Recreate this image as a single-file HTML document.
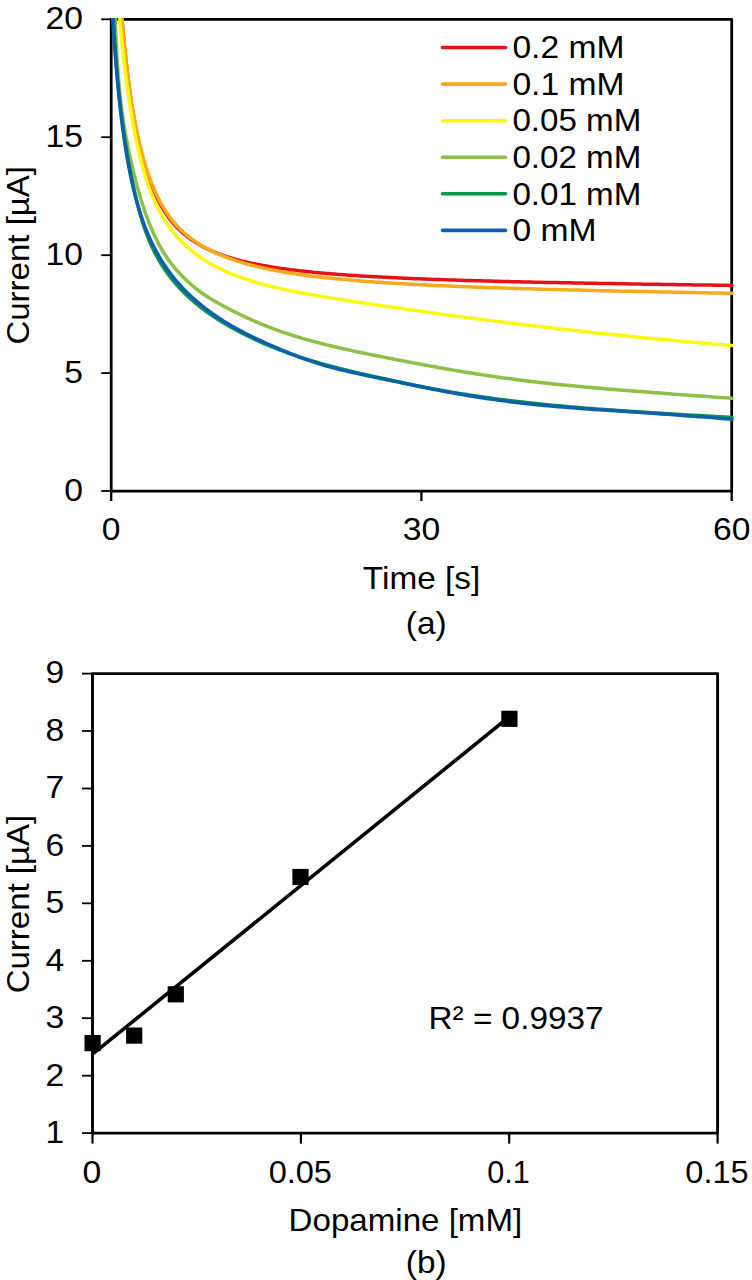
<!DOCTYPE html>
<html><head><meta charset="utf-8"><title>Chronoamperometry of dopamine</title>
<style>html,body{margin:0;padding:0;background:#fff;}svg{display:block;}text{font-family:"Liberation Sans", sans-serif;font-size:32px;fill:#000;}</style></head><body>
<svg width="752" height="1280" viewBox="0 0 752 1280" role="img" aria-label="Chronoamperometric response and dopamine calibration plot">
<rect width="752" height="1280" fill="#fff"/>
<g id="chart-a">
<g stroke="#000" fill="none">
<rect x="111.2" y="19.3" width="620.5" height="471.7" stroke-width="2.75" stroke-linejoin="round"/>
<line x1="101.2" y1="491.0" x2="111.2" y2="491.0" stroke-width="1.8"/>
<line x1="101.2" y1="373.1" x2="111.2" y2="373.1" stroke-width="1.8"/>
<line x1="101.2" y1="255.2" x2="111.2" y2="255.2" stroke-width="1.8"/>
<line x1="101.2" y1="137.2" x2="111.2" y2="137.2" stroke-width="1.8"/>
<line x1="101.2" y1="19.3" x2="111.2" y2="19.3" stroke-width="1.8"/>
<line x1="111.2" y1="491.0" x2="111.2" y2="501.0" stroke-width="2.3"/>
<line x1="421.4" y1="491.0" x2="421.4" y2="501.0" stroke-width="2.3"/>
<line x1="731.7" y1="491.0" x2="731.7" y2="501.0" stroke-width="2.3"/>
</g>
<clipPath id="ca"><rect x="109.8" y="17.900000000000002" width="626.5" height="471.7"/></clipPath>
<g clip-path="url(#ca)" fill="none" stroke-linecap="round" stroke-linejoin="round">
<path d="M120.56,0.47 L120.70,2.33 L120.84,4.17 L120.98,6.02 L121.12,7.86 L121.26,9.70 L121.40,11.53 L121.55,13.36 L121.70,15.19 L121.84,17.01 L121.99,18.83 L122.14,20.65 L122.30,22.46 L122.45,24.26 L122.60,26.06 L122.76,27.86 L122.92,29.65 L123.08,31.44 L123.24,33.22 L123.40,35.00 L123.56,36.77 L123.73,38.54 L123.89,40.30 L124.06,42.06 L124.23,43.81 L124.40,45.56 L124.57,47.30 L124.74,49.03 L124.92,50.77 L125.10,52.49 L125.27,54.21 L125.45,55.92 L125.64,57.63 L125.82,59.33 L126.00,61.03 L126.19,62.72 L126.38,64.41 L126.57,66.08 L126.76,67.76 L126.95,69.42 L127.14,71.08 L127.34,72.74 L127.54,74.38 L127.74,76.03 L127.94,77.66 L128.14,79.29 L128.35,80.91 L128.55,82.53 L128.76,84.14 L128.97,85.74 L129.19,87.33 L129.40,88.92 L129.62,90.50 L129.84,92.08 L130.06,93.65 L130.28,95.21 L130.50,96.77 L130.73,98.31 L130.96,99.86 L131.19,101.39 L131.42,102.92 L131.65,104.44 L131.89,105.95 L132.13,107.46 L132.37,108.96 L132.61,110.45 L132.85,111.93 L133.10,113.41 L133.35,114.88 L133.60,116.34 L133.85,117.80 L134.11,119.25 L134.37,120.69 L134.63,122.12 L134.89,123.55 L135.16,124.97 L135.42,126.38 L135.69,127.78 L135.96,129.18 L136.24,130.57 L136.52,131.95 L136.79,133.32 L137.08,134.69 L137.36,136.05 L137.65,137.40 L137.94,138.75 L138.23,140.08 L138.52,141.41 L138.82,142.73 L139.12,144.05 L139.42,145.35 L139.73,146.65 L140.04,147.94 L140.35,149.22 L140.66,150.50 L140.97,151.77 L141.29,153.03 L141.62,154.28 L141.94,155.53 L142.27,156.76 L142.60,157.99 L142.93,159.21 L143.27,160.43 L143.61,161.63 L143.95,162.83 L144.29,164.02 L144.64,165.21 L144.99,166.38 L145.35,167.55 L145.70,168.71 L146.06,169.86 L146.43,171.01 L146.80,172.14 L147.17,173.27 L147.54,174.39 L147.92,175.51 L148.30,176.61 L148.68,177.71 L149.07,178.80 L149.46,179.88 L149.85,180.96 L150.25,182.02 L150.65,183.08 L151.05,184.14 L151.46,185.18 L151.87,186.22 L152.29,187.24 L152.71,188.26 L153.13,189.28 L153.56,190.28 L153.99,191.28 L154.42,192.27 L154.86,193.25 L155.30,194.23 L155.75,195.19 L156.20,196.15 L156.65,197.10 L157.11,198.05 L157.57,198.98 L158.04,199.91 L158.51,200.83 L158.98,201.74 L159.46,202.65 L159.94,203.55 L160.43,204.44 L160.92,205.32 L161.42,206.19 L161.91,207.06 L162.42,207.92 L162.93,208.77 L163.44,209.62 L163.96,210.45 L164.48,211.28 L165.01,212.10 L165.54,212.91 L166.08,213.72 L166.62,214.52 L167.16,215.31 L167.71,216.09 L168.27,216.87 L168.83,217.64 L169.40,218.40 L169.97,219.15 L170.54,219.89 L171.12,220.63 L171.71,221.36 L172.30,222.08 L172.90,222.80 L173.50,223.51 L174.11,224.21 L174.72,224.90 L175.34,225.59 L175.96,226.26 L176.59,226.93 L177.22,227.60 L177.86,228.26 L178.51,228.91 L179.16,229.55 L179.82,230.19 L180.48,230.82 L181.15,231.44 L181.82,232.06 L182.50,232.67 L183.19,233.27 L183.88,233.87 L184.58,234.46 L185.29,235.05 L186.00,235.63 L186.72,236.20 L187.44,236.77 L188.17,237.33 L188.91,237.88 L189.65,238.43 L190.40,238.98 L191.16,239.51 L191.92,240.05 L192.69,240.57 L193.47,241.09 L194.25,241.61 L195.04,242.12 L195.84,242.62 L196.65,243.12 L197.46,243.62 L198.28,244.11 L199.10,244.59 L199.94,245.07 L200.78,245.54 L201.63,246.01 L202.48,246.47 L203.35,246.93 L204.22,247.38 L205.10,247.83 L205.98,248.28 L206.88,248.72 L207.78,249.15 L208.69,249.58 L209.61,250.00 L210.54,250.42 L211.47,250.84 L212.42,251.25 L213.37,251.66 L214.33,252.06 L215.30,252.46 L216.27,252.86 L217.26,253.24 L218.25,253.63 L219.26,254.01 L220.27,254.39 L221.29,254.76 L222.32,255.13 L223.36,255.50 L224.41,255.86 L225.47,256.22 L226.54,256.57 L227.61,256.92 L228.70,257.27 L229.80,257.61 L230.90,257.95 L232.02,258.28 L233.14,258.61 L234.28,258.94 L235.42,259.26 L236.58,259.58 L237.74,259.90 L238.92,260.22 L240.11,260.53 L241.30,260.83 L242.51,261.14 L243.73,261.44 L244.96,261.73 L246.20,262.03 L247.45,262.32 L248.71,262.60 L249.99,262.89 L251.27,263.17 L252.57,263.45 L253.87,263.72 L255.19,263.99 L256.52,264.26 L257.87,264.53 L259.22,264.79 L260.59,265.05 L261.97,265.31 L263.36,265.56 L264.76,265.81 L266.18,266.06 L267.60,266.31 L269.04,266.55 L270.50,266.79 L271.96,267.03 L273.44,267.27 L274.94,267.50 L276.44,267.73 L277.96,267.96 L279.49,268.19 L281.04,268.41 L282.60,268.63 L284.17,268.85 L285.76,269.06 L287.36,269.28 L288.98,269.49 L290.61,269.70 L292.25,269.91 L293.91,270.11 L295.58,270.31 L297.27,270.51 L298.98,270.71 L300.70,270.91 L302.43,271.10 L304.18,271.29 L305.94,271.48 L307.72,271.67 L309.52,271.86 L311.33,272.04 L313.16,272.22 L315.00,272.40 L316.87,272.58 L318.74,272.75 L320.64,272.93 L322.55,273.10 L324.47,273.27 L326.42,273.44 L328.38,273.60 L330.36,273.77 L332.36,273.93 L334.37,274.09 L336.40,274.25 L338.45,274.41 L340.52,274.56 L342.61,274.72 L344.71,274.87 L346.84,275.02 L348.98,275.17 L351.14,275.31 L353.32,275.46 L355.52,275.60 L357.74,275.75 L359.98,275.89 L362.24,276.03 L364.52,276.17 L366.82,276.30 L369.14,276.44 L371.48,276.57 L373.84,276.70 L376.22,276.83 L378.63,276.96 L381.05,277.09 L383.50,277.22 L385.96,277.34 L388.45,277.47 L390.96,277.59 L393.50,277.71 L396.05,277.83 L398.63,277.95 L401.24,278.07 L403.86,278.18 L406.51,278.30 L409.18,278.41 L411.87,278.53 L414.59,278.64 L417.34,278.75 L420.10,278.86 L422.90,278.97 L425.71,279.07 L428.55,279.18 L431.42,279.29 L434.31,279.39 L437.23,279.49 L440.17,279.60 L443.14,279.70 L446.14,279.80 L449.16,279.90 L452.21,280.00 L455.29,280.09 L458.39,280.19 L461.52,280.29 L464.68,280.38 L467.87,280.48 L471.08,280.57 L474.33,280.66 L477.60,280.75 L480.90,280.85 L484.23,280.94 L487.59,281.03 L490.98,281.12 L494.40,281.20 L497.85,281.29 L501.33,281.38 L504.84,281.47 L508.39,281.55 L511.96,281.64 L515.57,281.72 L519.20,281.80 L522.87,281.89 L526.58,281.97 L530.31,282.05 L534.08,282.14 L537.88,282.22 L541.72,282.30 L545.59,282.38 L549.49,282.46 L553.43,282.54 L557.40,282.62 L561.41,282.70 L565.45,282.77 L569.53,282.85 L573.65,282.93 L577.80,283.01 L581.99,283.08 L586.22,283.16 L590.48,283.24 L594.78,283.31 L599.12,283.39 L603.50,283.46 L607.91,283.54 L612.37,283.62 L616.87,283.69 L621.40,283.77 L625.98,283.84 L630.59,283.91 L635.25,283.99 L639.95,284.06 L644.69,284.14 L649.47,284.21 L654.29,284.29 L659.16,284.36 L664.07,284.43 L669.02,284.51 L674.02,284.58 L679.06,284.66 L684.15,284.73 L689.28,284.81 L694.46,284.88 L699.68,284.95 L704.95,285.03 L710.26,285.10 L715.63,285.18 L721.04,285.25 L726.49,285.33 L732.00,285.40" stroke="#e61218" stroke-width="3.5"/>
<path d="M120.76,3.43 L120.90,5.22 L121.04,7.01 L121.18,8.79 L121.32,10.58 L121.47,12.35 L121.61,14.13 L121.76,15.90 L121.91,17.67 L122.06,19.43 L122.21,21.19 L122.36,22.95 L122.51,24.70 L122.67,26.45 L122.82,28.19 L122.98,29.94 L123.14,31.67 L123.30,33.40 L123.46,35.13 L123.62,36.85 L123.79,38.57 L123.95,40.29 L124.12,42.00 L124.29,43.70 L124.46,45.40 L124.63,47.09 L124.81,48.78 L124.98,50.47 L125.16,52.15 L125.34,53.82 L125.52,55.49 L125.70,57.16 L125.88,58.82 L126.06,60.47 L126.25,62.12 L126.44,63.76 L126.63,65.40 L126.82,67.03 L127.01,68.66 L127.21,70.28 L127.40,71.89 L127.60,73.50 L127.80,75.11 L128.00,76.70 L128.20,78.30 L128.41,79.88 L128.61,81.46 L128.82,83.04 L129.03,84.60 L129.25,86.16 L129.46,87.72 L129.68,89.27 L129.89,90.81 L130.11,92.35 L130.34,93.88 L130.56,95.40 L130.79,96.92 L131.01,98.43 L131.24,99.94 L131.47,101.44 L131.71,102.93 L131.94,104.41 L132.18,105.89 L132.42,107.36 L132.66,108.83 L132.91,110.29 L133.16,111.74 L133.40,113.19 L133.65,114.62 L133.91,116.06 L134.16,117.48 L134.42,118.90 L134.68,120.31 L134.94,121.72 L135.21,123.11 L135.47,124.51 L135.74,125.89 L136.01,127.27 L136.29,128.64 L136.56,130.00 L136.84,131.36 L137.12,132.71 L137.41,134.05 L137.69,135.38 L137.98,136.71 L138.27,138.03 L138.57,139.35 L138.86,140.65 L139.16,141.95 L139.46,143.25 L139.77,144.53 L140.08,145.81 L140.39,147.08 L140.70,148.35 L141.01,149.60 L141.33,150.85 L141.65,152.10 L141.98,153.33 L142.30,154.56 L142.63,155.78 L142.96,156.99 L143.30,158.20 L143.64,159.40 L143.98,160.59 L144.32,161.78 L144.67,162.96 L145.02,164.13 L145.37,165.29 L145.73,166.45 L146.09,167.59 L146.45,168.74 L146.82,169.87 L147.19,171.00 L147.56,172.12 L147.94,173.23 L148.32,174.33 L148.70,175.43 L149.08,176.52 L149.47,177.61 L149.87,178.68 L150.26,179.75 L150.66,180.81 L151.07,181.87 L151.47,182.91 L151.88,183.95 L152.30,184.98 L152.71,186.01 L153.14,187.03 L153.56,188.04 L153.99,189.04 L154.42,190.04 L154.86,191.03 L155.30,192.01 L155.74,192.98 L156.19,193.95 L156.64,194.91 L157.10,195.86 L157.56,196.80 L158.02,197.74 L158.49,198.67 L158.96,199.60 L159.44,200.51 L159.92,201.42 L160.41,202.32 L160.89,203.22 L161.39,204.11 L161.89,204.99 L162.39,205.86 L162.90,206.72 L163.41,207.58 L163.92,208.43 L164.44,209.28 L164.97,210.11 L165.50,210.94 L166.03,211.77 L166.57,212.58 L167.11,213.39 L167.66,214.19 L168.22,214.99 L168.77,215.77 L169.34,216.55 L169.91,217.32 L170.48,218.09 L171.06,218.85 L171.64,219.60 L172.23,220.34 L172.82,221.08 L173.42,221.81 L174.02,222.53 L174.63,223.25 L175.25,223.96 L175.87,224.66 L176.49,225.35 L177.13,226.04 L177.76,226.72 L178.41,227.40 L179.05,228.07 L179.71,228.73 L180.37,229.38 L181.03,230.03 L181.70,230.68 L182.38,231.32 L183.06,231.95 L183.75,232.57 L184.45,233.19 L185.15,233.81 L185.86,234.41 L186.57,235.02 L187.29,235.61 L188.02,236.20 L188.75,236.79 L189.49,237.37 L190.24,237.95 L190.99,238.52 L191.75,239.08 L192.52,239.64 L193.29,240.19 L194.07,240.74 L194.85,241.29 L195.65,241.83 L196.45,242.36 L197.26,242.89 L198.07,243.41 L198.89,243.93 L199.72,244.45 L200.56,244.96 L201.40,245.47 L202.25,245.97 L203.11,246.46 L203.98,246.96 L204.85,247.45 L205.73,247.93 L206.62,248.41 L207.52,248.88 L208.43,249.36 L209.34,249.82 L210.26,250.29 L211.19,250.75 L212.13,251.20 L213.07,251.65 L214.03,252.10 L214.99,252.55 L215.96,252.99 L216.94,253.42 L217.93,253.86 L218.93,254.29 L219.93,254.71 L220.95,255.14 L221.97,255.55 L223.00,255.97 L224.05,256.38 L225.10,256.79 L226.16,257.20 L227.23,257.60 L228.31,258.00 L229.39,258.39 L230.49,258.79 L231.60,259.18 L232.72,259.56 L233.85,259.95 L234.98,260.33 L236.13,260.70 L237.29,261.08 L238.46,261.45 L239.64,261.81 L240.83,262.18 L242.02,262.54 L243.23,262.90 L244.45,263.25 L245.69,263.60 L246.93,263.95 L248.18,264.30 L249.45,264.64 L250.72,264.98 L252.01,265.32 L253.31,265.65 L254.62,265.98 L255.94,266.31 L257.27,266.63 L258.61,266.95 L259.97,267.27 L261.34,267.59 L262.72,267.90 L264.11,268.21 L265.52,268.52 L266.93,268.82 L268.36,269.12 L269.81,269.42 L271.26,269.71 L272.73,270.00 L274.21,270.29 L275.70,270.58 L277.21,270.86 L278.73,271.14 L280.27,271.42 L281.81,271.69 L283.37,271.96 L284.95,272.23 L286.54,272.50 L288.14,272.76 L289.76,273.02 L291.39,273.28 L293.03,273.53 L294.70,273.79 L296.37,274.04 L298.06,274.28 L299.76,274.53 L301.48,274.77 L303.22,275.01 L304.97,275.25 L306.73,275.48 L308.52,275.71 L310.31,275.94 L312.13,276.17 L313.95,276.39 L315.80,276.61 L317.66,276.83 L319.54,277.05 L321.43,277.27 L323.34,277.48 L325.27,277.69 L327.22,277.90 L329.18,278.11 L331.16,278.31 L333.15,278.51 L335.17,278.71 L337.20,278.91 L339.25,279.11 L341.32,279.30 L343.41,279.49 L345.51,279.68 L347.64,279.87 L349.78,280.06 L351.94,280.24 L354.12,280.42 L356.32,280.60 L358.54,280.78 L360.78,280.96 L363.03,281.13 L365.31,281.31 L367.61,281.48 L369.93,281.65 L372.27,281.81 L374.63,281.98 L377.01,282.15 L379.41,282.31 L381.83,282.47 L384.28,282.63 L386.74,282.79 L389.23,282.95 L391.74,283.10 L394.27,283.25 L396.83,283.41 L399.40,283.56 L402.00,283.71 L404.63,283.85 L407.27,284.00 L409.94,284.15 L412.63,284.29 L415.35,284.43 L418.09,284.57 L420.85,284.71 L423.64,284.85 L426.46,284.99 L429.29,285.13 L432.16,285.26 L435.05,285.40 L437.96,285.53 L440.90,285.66 L443.87,285.79 L446.86,285.92 L449.88,286.05 L452.92,286.18 L455.99,286.30 L459.09,286.43 L462.22,286.55 L465.37,286.67 L468.55,286.80 L471.76,286.92 L475.00,287.04 L478.27,287.16 L481.57,287.28 L484.89,287.39 L488.24,287.51 L491.63,287.63 L495.04,287.74 L498.49,287.86 L501.96,287.97 L505.46,288.08 L509.00,288.20 L512.57,288.31 L516.17,288.42 L519.80,288.53 L523.46,288.64 L527.15,288.75 L530.88,288.86 L534.64,288.96 L538.43,289.07 L542.26,289.18 L546.12,289.28 L550.02,289.39 L553.95,289.50 L557.91,289.60 L561.91,289.70 L565.94,289.81 L570.01,289.91 L574.12,290.01 L578.26,290.12 L582.44,290.22 L586.66,290.32 L590.91,290.42 L595.20,290.52 L599.53,290.63 L603.89,290.73 L608.30,290.83 L612.74,290.93 L617.22,291.03 L621.75,291.13 L626.31,291.23 L630.91,291.33 L635.56,291.43 L640.24,291.53 L644.97,291.62 L649.73,291.72 L654.54,291.82 L659.40,291.92 L664.29,292.02 L669.23,292.12 L674.21,292.22 L679.24,292.32 L684.31,292.42 L689.42,292.52 L694.58,292.61 L699.79,292.71 L705.04,292.81 L710.34,292.91 L715.68,293.01 L721.07,293.11 L726.51,293.21 L732.00,293.31" stroke="#f4aa1c" stroke-width="3.5"/>
<path d="M118.36,6.27 L118.48,7.59 L118.61,8.91 L118.73,10.25 L118.86,11.59 L118.99,12.94 L119.12,14.30 L119.25,15.66 L119.38,17.04 L119.51,18.42 L119.64,19.81 L119.78,21.21 L119.92,22.61 L120.05,24.02 L120.19,25.43 L120.33,26.85 L120.47,28.28 L120.62,29.71 L120.76,31.15 L120.91,32.59 L121.05,34.04 L121.20,35.49 L121.35,36.95 L121.50,38.41 L121.65,39.88 L121.81,41.35 L121.96,42.82 L122.12,44.30 L122.28,45.78 L122.44,47.26 L122.60,48.75 L122.76,50.24 L122.92,51.73 L123.09,53.23 L123.26,54.72 L123.43,56.22 L123.60,57.72 L123.77,59.22 L123.94,60.73 L124.12,62.23 L124.29,63.74 L124.47,65.25 L124.65,66.75 L124.83,68.26 L125.01,69.77 L125.20,71.28 L125.39,72.79 L125.57,74.30 L125.76,75.81 L125.95,77.32 L126.15,78.83 L126.34,80.33 L126.54,81.84 L126.74,83.35 L126.94,84.85 L127.14,86.36 L127.35,87.86 L127.55,89.36 L127.76,90.86 L127.97,92.35 L128.18,93.85 L128.40,95.34 L128.61,96.83 L128.83,98.32 L129.05,99.81 L129.27,101.29 L129.50,102.77 L129.72,104.25 L129.95,105.72 L130.18,107.20 L130.41,108.67 L130.65,110.13 L130.89,111.59 L131.12,113.05 L131.37,114.51 L131.61,115.96 L131.85,117.40 L132.10,118.85 L132.35,120.28 L132.60,121.72 L132.86,123.15 L133.12,124.58 L133.38,126.00 L133.64,127.41 L133.90,128.83 L134.17,130.23 L134.44,131.64 L134.71,133.03 L134.98,134.43 L135.26,135.81 L135.54,137.19 L135.82,138.57 L136.11,139.94 L136.39,141.31 L136.68,142.67 L136.98,144.02 L137.27,145.37 L137.57,146.72 L137.87,148.05 L138.17,149.38 L138.48,150.71 L138.79,152.03 L139.10,153.34 L139.41,154.65 L139.73,155.95 L140.05,157.25 L140.37,158.53 L140.70,159.81 L141.03,161.09 L141.36,162.36 L141.70,163.62 L142.04,164.88 L142.38,166.12 L142.72,167.37 L143.07,168.60 L143.42,169.83 L143.78,171.05 L144.14,172.27 L144.50,173.47 L144.86,174.67 L145.23,175.87 L145.60,177.06 L145.98,178.24 L146.35,179.41 L146.74,180.57 L147.12,181.73 L147.51,182.88 L147.90,184.03 L148.30,185.17 L148.70,186.30 L149.10,187.42 L149.51,188.53 L149.92,189.64 L150.33,190.74 L150.75,191.84 L151.17,192.92 L151.60,194.00 L152.03,195.07 L152.46,196.14 L152.90,197.19 L153.34,198.24 L153.79,199.29 L154.24,200.32 L154.69,201.35 L155.15,202.37 L155.61,203.38 L156.08,204.38 L156.55,205.38 L157.03,206.37 L157.51,207.35 L157.99,208.33 L158.48,209.29 L158.98,210.25 L159.47,211.20 L159.98,212.15 L160.48,213.08 L161.00,214.01 L161.51,214.93 L162.03,215.85 L162.56,216.75 L163.09,217.65 L163.63,218.54 L164.17,219.42 L164.72,220.30 L165.27,221.17 L165.82,222.03 L166.38,222.88 L166.95,223.72 L167.52,224.56 L168.10,225.39 L168.68,226.21 L169.27,227.03 L169.86,227.84 L170.46,228.64 L171.06,229.44 L171.67,230.23 L172.29,231.01 L172.91,231.79 L173.54,232.56 L174.17,233.33 L174.81,234.09 L175.45,234.84 L176.10,235.59 L176.76,236.34 L177.42,237.08 L178.09,237.82 L178.76,238.55 L179.44,239.27 L180.13,240.00 L180.82,240.71 L181.52,241.43 L182.23,242.14 L182.94,242.84 L183.66,243.55 L184.39,244.25 L185.12,244.94 L185.86,245.63 L186.60,246.32 L187.36,247.01 L188.12,247.69 L188.88,248.37 L189.66,249.04 L190.44,249.71 L191.23,250.38 L192.02,251.04 L192.83,251.70 L193.64,252.35 L194.46,253.00 L195.28,253.64 L196.11,254.28 L196.95,254.91 L197.80,255.54 L198.66,256.17 L199.52,256.79 L200.40,257.40 L201.28,258.01 L202.16,258.62 L203.06,259.22 L203.97,259.81 L204.88,260.40 L205.80,260.98 L206.73,261.56 L207.67,262.13 L208.62,262.69 L209.57,263.25 L210.54,263.81 L211.51,264.36 L212.50,264.90 L213.49,265.44 L214.49,265.98 L215.50,266.51 L216.52,267.04 L217.55,267.56 L218.59,268.08 L219.63,268.59 L220.69,269.10 L221.76,269.60 L222.84,270.10 L223.92,270.60 L225.02,271.09 L226.13,271.58 L227.25,272.07 L228.37,272.55 L229.51,273.03 L230.66,273.50 L231.82,273.97 L232.99,274.44 L234.17,274.91 L235.36,275.37 L236.57,275.83 L237.78,276.28 L239.01,276.74 L240.24,277.18 L241.49,277.63 L242.75,278.08 L244.02,278.52 L245.30,278.96 L246.60,279.39 L247.91,279.83 L249.22,280.26 L250.55,280.69 L251.90,281.11 L253.25,281.53 L254.62,281.95 L256.00,282.37 L257.40,282.78 L258.80,283.19 L260.22,283.59 L261.65,283.99 L263.10,284.39 L264.56,284.78 L266.03,285.17 L267.52,285.56 L269.01,285.94 L270.53,286.32 L272.06,286.69 L273.60,287.07 L275.15,287.44 L276.72,287.80 L278.31,288.17 L279.91,288.53 L281.52,288.89 L283.15,289.24 L284.79,289.60 L286.45,289.95 L288.13,290.30 L289.82,290.65 L291.52,291.00 L293.24,291.34 L294.98,291.69 L296.73,292.03 L298.50,292.37 L300.29,292.71 L302.09,293.05 L303.91,293.38 L305.74,293.72 L307.60,294.06 L309.46,294.39 L311.35,294.72 L313.26,295.06 L315.18,295.39 L317.12,295.72 L319.07,296.06 L321.05,296.39 L323.04,296.72 L325.05,297.06 L327.09,297.39 L329.13,297.72 L331.20,298.06 L333.29,298.39 L335.40,298.73 L337.52,299.06 L339.67,299.40 L341.83,299.74 L344.02,300.08 L346.22,300.42 L348.45,300.76 L350.70,301.10 L352.96,301.44 L355.25,301.79 L357.56,302.13 L359.89,302.48 L362.24,302.83 L364.62,303.18 L367.01,303.53 L369.43,303.89 L371.87,304.25 L374.33,304.61 L376.82,304.97 L379.32,305.33 L381.86,305.70 L384.41,306.07 L386.99,306.44 L389.59,306.81 L392.22,307.19 L394.87,307.57 L397.54,307.95 L400.24,308.34 L402.97,308.72 L405.71,309.11 L408.49,309.51 L411.29,309.90 L414.12,310.30 L416.97,310.71 L419.85,311.11 L422.75,311.52 L425.68,311.93 L428.64,312.34 L431.63,312.76 L434.64,313.17 L437.68,313.59 L440.75,314.01 L443.85,314.44 L446.98,314.87 L450.13,315.29 L453.32,315.72 L456.53,316.16 L459.78,316.59 L463.05,317.03 L466.35,317.47 L469.69,317.91 L473.05,318.35 L476.45,318.79 L479.88,319.24 L483.34,319.69 L486.83,320.14 L490.35,320.59 L493.91,321.04 L497.49,321.49 L501.12,321.95 L504.77,322.40 L508.46,322.86 L512.18,323.32 L515.94,323.78 L519.73,324.24 L523.56,324.70 L527.42,325.17 L531.32,325.63 L535.25,326.10 L539.22,326.56 L543.23,327.03 L547.27,327.50 L551.35,327.97 L555.47,328.44 L559.63,328.91 L563.82,329.38 L568.06,329.85 L572.33,330.32 L576.64,330.80 L580.99,331.27 L585.38,331.75 L589.82,332.22 L594.29,332.70 L598.81,333.17 L603.36,333.65 L607.96,334.13 L612.60,334.60 L617.29,335.08 L622.01,335.56 L626.78,336.03 L631.60,336.51 L636.46,336.99 L641.36,337.47 L646.31,337.94 L651.30,338.42 L656.34,338.90 L661.43,339.38 L666.57,339.85 L671.75,340.33 L676.98,340.81 L682.25,341.28 L687.58,341.76 L692.96,342.24 L698.38,342.71 L703.86,343.19 L709.38,343.66 L714.96,344.14 L720.59,344.61 L726.27,345.09 L732.00,345.56" stroke="#fcf814" stroke-width="3.5"/>
<path d="M113.96,-20.32 L114.05,-16.85 L114.14,-13.45 L114.24,-10.11 L114.33,-6.84 L114.43,-3.64 L114.52,-0.50 L114.62,2.58 L114.72,5.60 L114.82,8.56 L114.92,11.46 L115.02,14.30 L115.12,17.10 L115.22,19.83 L115.33,22.52 L115.43,25.16 L115.54,27.74 L115.64,30.28 L115.75,32.77 L115.86,35.22 L115.97,37.62 L116.09,39.98 L116.20,42.29 L116.31,44.56 L116.43,46.80 L116.54,48.99 L116.66,51.14 L116.78,53.26 L116.90,55.34 L117.02,57.39 L117.15,59.40 L117.27,61.37 L117.39,63.32 L117.52,65.23 L117.65,67.11 L117.78,68.96 L117.91,70.78 L118.04,72.57 L118.17,74.34 L118.31,76.07 L118.44,77.78 L118.58,79.47 L118.72,81.13 L118.86,82.76 L119.00,84.38 L119.14,85.97 L119.28,87.53 L119.43,89.08 L119.58,90.61 L119.73,92.11 L119.88,93.60 L120.03,95.07 L120.18,96.52 L120.34,97.95 L120.49,99.36 L120.65,100.76 L120.81,102.15 L120.97,103.52 L121.13,104.87 L121.30,106.21 L121.46,107.54 L121.63,108.85 L121.80,110.15 L121.97,111.44 L122.15,112.72 L122.32,113.99 L122.50,115.25 L122.68,116.50 L122.86,117.74 L123.04,118.97 L123.22,120.19 L123.41,121.41 L123.59,122.62 L123.78,123.82 L123.98,125.02 L124.17,126.21 L124.36,127.39 L124.56,128.58 L124.76,129.75 L124.96,130.92 L125.17,132.09 L125.37,133.26 L125.58,134.42 L125.79,135.59 L126.00,136.75 L126.21,137.90 L126.43,139.06 L126.65,140.22 L126.87,141.38 L127.09,142.53 L127.32,143.69 L127.55,144.85 L127.78,146.01 L128.01,147.17 L128.24,148.34 L128.48,149.51 L128.72,150.68 L128.96,151.85 L129.20,153.02 L129.45,154.20 L129.70,155.38 L129.95,156.56 L130.21,157.74 L130.46,158.92 L130.72,160.11 L130.98,161.30 L131.25,162.48 L131.52,163.67 L131.79,164.86 L132.06,166.06 L132.34,167.25 L132.61,168.44 L132.90,169.64 L133.18,170.83 L133.47,172.03 L133.76,173.22 L134.05,174.42 L134.35,175.62 L134.65,176.81 L134.95,178.01 L135.25,179.21 L135.56,180.40 L135.87,181.60 L136.19,182.79 L136.50,183.99 L136.83,185.18 L137.15,186.38 L137.48,187.57 L137.81,188.77 L138.14,189.96 L138.48,191.15 L138.82,192.34 L139.17,193.53 L139.52,194.71 L139.87,195.90 L140.22,197.09 L140.58,198.27 L140.94,199.45 L141.31,200.63 L141.68,201.81 L142.05,202.99 L142.43,204.16 L142.81,205.33 L143.20,206.51 L143.59,207.67 L143.98,208.84 L144.38,210.01 L144.78,211.17 L145.18,212.33 L145.59,213.49 L146.01,214.64 L146.43,215.79 L146.85,216.94 L147.27,218.09 L147.71,219.23 L148.14,220.37 L148.58,221.51 L149.02,222.64 L149.47,223.77 L149.93,224.90 L150.38,226.02 L150.85,227.13 L151.31,228.24 L151.79,229.35 L152.26,230.45 L152.74,231.55 L153.23,232.64 L153.72,233.73 L154.22,234.81 L154.72,235.89 L155.23,236.96 L155.74,238.02 L156.26,239.08 L156.78,240.13 L157.31,241.18 L157.84,242.22 L158.38,243.26 L158.92,244.28 L159.47,245.30 L160.03,246.32 L160.59,247.33 L161.15,248.33 L161.72,249.32 L162.30,250.31 L162.89,251.29 L163.48,252.26 L164.07,253.23 L164.67,254.19 L165.28,255.14 L165.90,256.08 L166.52,257.01 L167.14,257.94 L167.78,258.86 L168.42,259.77 L169.06,260.68 L169.72,261.57 L170.38,262.46 L171.04,263.34 L171.71,264.21 L172.39,265.07 L173.08,265.93 L173.78,266.78 L174.48,267.62 L175.18,268.45 L175.90,269.28 L176.62,270.10 L177.35,270.92 L178.09,271.73 L178.83,272.54 L179.59,273.34 L180.35,274.14 L181.11,274.94 L181.89,275.73 L182.67,276.52 L183.46,277.31 L184.26,278.09 L185.07,278.88 L185.89,279.66 L186.71,280.44 L187.54,281.22 L188.39,282.00 L189.24,282.77 L190.09,283.54 L190.96,284.31 L191.84,285.07 L192.72,285.83 L193.62,286.59 L194.52,287.34 L195.43,288.09 L196.35,288.83 L197.28,289.56 L198.22,290.29 L199.17,291.02 L200.13,291.74 L201.10,292.45 L202.08,293.16 L203.07,293.85 L204.07,294.55 L205.08,295.23 L206.10,295.91 L207.13,296.58 L208.17,297.24 L209.22,297.90 L210.28,298.55 L211.36,299.20 L212.44,299.85 L213.53,300.49 L214.64,301.13 L215.76,301.77 L216.89,302.40 L218.03,303.04 L219.18,303.67 L220.34,304.31 L221.52,304.95 L222.70,305.59 L223.90,306.23 L225.12,306.87 L226.34,307.52 L227.58,308.16 L228.82,308.82 L230.09,309.47 L231.36,310.13 L232.65,310.78 L233.95,311.44 L235.26,312.10 L236.59,312.77 L237.93,313.43 L239.29,314.09 L240.65,314.76 L242.04,315.42 L243.43,316.09 L244.84,316.76 L246.27,317.42 L247.71,318.09 L249.16,318.75 L250.63,319.42 L252.12,320.08 L253.61,320.75 L255.13,321.41 L256.66,322.07 L258.20,322.73 L259.76,323.38 L261.34,324.04 L262.93,324.69 L264.54,325.35 L266.17,326.00 L267.81,326.64 L269.47,327.29 L271.15,327.93 L272.84,328.57 L274.55,329.20 L276.28,329.84 L278.02,330.47 L279.79,331.09 L281.57,331.71 L283.37,332.33 L285.18,332.95 L287.02,333.56 L288.87,334.17 L290.75,334.77 L292.64,335.38 L294.55,335.97 L296.48,336.57 L298.44,337.16 L300.41,337.75 L302.40,338.34 L304.41,338.92 L306.44,339.50 L308.49,340.08 L310.57,340.65 L312.66,341.22 L314.78,341.79 L316.92,342.36 L319.07,342.93 L321.26,343.49 L323.46,344.05 L325.69,344.61 L327.93,345.16 L330.21,345.72 L332.50,346.27 L334.82,346.82 L337.16,347.37 L339.53,347.91 L341.92,348.46 L344.33,349.00 L346.77,349.54 L349.23,350.08 L351.72,350.62 L354.23,351.16 L356.77,351.70 L359.34,352.24 L361.93,352.78 L364.55,353.32 L367.19,353.86 L369.87,354.40 L372.56,354.94 L375.29,355.49 L378.05,356.03 L380.83,356.58 L383.64,357.14 L386.48,357.69 L389.35,358.25 L392.24,358.82 L395.17,359.38 L398.13,359.96 L401.11,360.53 L404.13,361.11 L407.18,361.70 L410.26,362.29 L413.37,362.88 L416.51,363.48 L419.68,364.08 L422.89,364.68 L426.13,365.28 L429.40,365.88 L432.71,366.49 L436.05,367.09 L439.42,367.70 L442.83,368.31 L446.27,368.91 L449.75,369.51 L453.26,370.12 L456.81,370.72 L460.39,371.32 L464.01,371.92 L467.67,372.51 L471.37,373.10 L475.10,373.69 L478.87,374.28 L482.68,374.86 L486.53,375.44 L490.42,376.01 L494.34,376.58 L498.31,377.15 L502.32,377.71 L506.37,378.26 L510.46,378.81 L514.59,379.35 L518.76,379.89 L522.98,380.42 L527.24,380.95 L531.54,381.46 L535.89,381.97 L540.28,382.48 L544.71,382.97 L549.19,383.46 L553.72,383.94 L558.29,384.42 L562.91,384.89 L567.58,385.35 L572.29,385.81 L577.05,386.26 L581.86,386.71 L586.72,387.15 L591.63,387.59 L596.59,388.03 L601.60,388.46 L606.66,388.89 L611.77,389.32 L616.93,389.75 L622.15,390.17 L627.42,390.59 L632.74,391.01 L638.12,391.43 L643.55,391.85 L649.04,392.27 L654.58,392.69 L660.18,393.11 L665.84,393.53 L671.55,393.96 L677.32,394.38 L683.16,394.80 L689.05,395.23 L695.00,395.66 L701.01,396.09 L707.08,396.52 L713.22,396.95 L719.42,397.39 L725.68,397.83 L732.00,398.28" stroke="#8cc047" stroke-width="3.5"/>
<path d="M112.46,-12.63 L112.54,-10.20 L112.62,-7.81 L112.70,-5.44 L112.78,-3.11 L112.86,-0.80 L112.95,1.47 L113.03,3.72 L113.12,5.93 L113.20,8.12 L113.29,10.29 L113.38,12.43 L113.47,14.54 L113.56,16.62 L113.65,18.69 L113.74,20.72 L113.84,22.74 L113.93,24.73 L114.02,26.70 L114.12,28.64 L114.22,30.57 L114.32,32.47 L114.41,34.36 L114.51,36.22 L114.62,38.07 L114.72,39.89 L114.82,41.70 L114.93,43.49 L115.03,45.26 L115.14,47.01 L115.25,48.75 L115.35,50.47 L115.46,52.17 L115.58,53.86 L115.69,55.54 L115.80,57.20 L115.92,58.84 L116.03,60.48 L116.15,62.09 L116.27,63.70 L116.39,65.29 L116.51,66.87 L116.63,68.44 L116.76,70.00 L116.88,71.54 L117.01,73.08 L117.14,74.60 L117.26,76.11 L117.39,77.62 L117.53,79.11 L117.66,80.60 L117.79,82.07 L117.93,83.54 L118.07,85.00 L118.21,86.45 L118.35,87.90 L118.49,89.34 L118.63,90.77 L118.78,92.19 L118.92,93.61 L119.07,95.02 L119.22,96.42 L119.37,97.83 L119.53,99.22 L119.68,100.61 L119.84,102.00 L119.99,103.38 L120.15,104.75 L120.32,106.13 L120.48,107.50 L120.64,108.86 L120.81,110.22 L120.98,111.58 L121.15,112.94 L121.32,114.30 L121.49,115.65 L121.67,117.00 L121.85,118.35 L122.02,119.70 L122.21,121.05 L122.39,122.39 L122.57,123.74 L122.76,125.08 L122.95,126.42 L123.14,127.77 L123.33,129.11 L123.53,130.46 L123.72,131.80 L123.92,133.15 L124.12,134.49 L124.33,135.84 L124.53,137.19 L124.74,138.54 L124.95,139.89 L125.16,141.24 L125.38,142.60 L125.59,143.96 L125.81,145.32 L126.04,146.68 L126.26,148.04 L126.48,149.41 L126.71,150.78 L126.94,152.15 L127.18,153.53 L127.41,154.91 L127.65,156.29 L127.89,157.68 L128.14,159.07 L128.38,160.46 L128.63,161.86 L128.88,163.26 L129.14,164.66 L129.39,166.07 L129.65,167.48 L129.91,168.90 L130.18,170.31 L130.45,171.73 L130.72,173.15 L130.99,174.57 L131.27,175.99 L131.55,177.41 L131.83,178.83 L132.11,180.25 L132.40,181.66 L132.69,183.08 L132.99,184.50 L133.29,185.91 L133.59,187.32 L133.89,188.73 L134.20,190.14 L134.51,191.54 L134.82,192.94 L135.14,194.34 L135.46,195.73 L135.78,197.12 L136.11,198.50 L136.44,199.88 L136.78,201.26 L137.11,202.63 L137.45,203.99 L137.80,205.35 L138.15,206.70 L138.50,208.05 L138.86,209.39 L139.22,210.72 L139.58,212.04 L139.95,213.36 L140.32,214.67 L140.70,215.98 L141.08,217.27 L141.46,218.56 L141.85,219.84 L142.24,221.11 L142.63,222.38 L143.03,223.63 L143.44,224.88 L143.85,226.11 L144.26,227.34 L144.68,228.56 L145.10,229.77 L145.53,230.96 L145.96,232.15 L146.39,233.33 L146.83,234.50 L147.28,235.66 L147.73,236.82 L148.18,237.96 L148.64,239.10 L149.10,240.22 L149.57,241.34 L150.05,242.45 L150.53,243.55 L151.01,244.65 L151.50,245.73 L151.99,246.81 L152.49,247.88 L153.00,248.94 L153.51,250.00 L154.02,251.05 L154.55,252.09 L155.07,253.12 L155.60,254.15 L156.14,255.17 L156.69,256.19 L157.24,257.19 L157.79,258.20 L158.35,259.19 L158.92,260.18 L159.49,261.16 L160.07,262.14 L160.66,263.11 L161.25,264.08 L161.85,265.04 L162.45,265.99 L163.06,266.94 L163.68,267.89 L164.30,268.83 L164.93,269.76 L165.57,270.69 L166.22,271.61 L166.87,272.53 L167.52,273.45 L168.19,274.36 L168.86,275.26 L169.54,276.16 L170.23,277.06 L170.92,277.95 L171.62,278.84 L172.33,279.72 L173.04,280.60 L173.77,281.48 L174.50,282.35 L175.24,283.22 L175.98,284.08 L176.74,284.94 L177.50,285.80 L178.27,286.65 L179.05,287.50 L179.84,288.35 L180.63,289.19 L181.44,290.03 L182.25,290.87 L183.07,291.70 L183.90,292.54 L184.74,293.36 L185.59,294.19 L186.45,295.01 L187.31,295.83 L188.19,296.65 L189.07,297.46 L189.97,298.27 L190.87,299.08 L191.78,299.89 L192.70,300.70 L193.64,301.50 L194.58,302.30 L195.53,303.10 L196.49,303.89 L197.47,304.68 L198.45,305.48 L199.44,306.27 L200.45,307.05 L201.46,307.84 L202.49,308.62 L203.52,309.41 L204.57,310.19 L205.63,310.96 L206.70,311.74 L207.78,312.52 L208.87,313.29 L209.98,314.06 L211.09,314.83 L212.22,315.60 L213.36,316.37 L214.51,317.14 L215.68,317.90 L216.86,318.67 L218.04,319.43 L219.25,320.19 L220.46,320.95 L221.69,321.71 L222.93,322.47 L224.18,323.22 L225.45,323.98 L226.73,324.73 L228.02,325.49 L229.33,326.24 L230.65,326.99 L231.99,327.74 L233.34,328.49 L234.71,329.24 L236.08,329.99 L237.48,330.74 L238.89,331.49 L240.31,332.23 L241.75,332.98 L243.20,333.72 L244.67,334.47 L246.16,335.21 L247.66,335.96 L249.17,336.70 L250.71,337.44 L252.26,338.18 L253.82,338.92 L255.40,339.65 L257.00,340.39 L258.62,341.12 L260.25,341.86 L261.90,342.59 L263.57,343.32 L265.26,344.04 L266.96,344.77 L268.68,345.49 L270.42,346.21 L272.18,346.93 L273.96,347.65 L275.75,348.36 L277.57,349.07 L279.40,349.78 L281.26,350.49 L283.13,351.20 L285.02,351.90 L286.94,352.60 L288.87,353.29 L290.83,353.98 L292.80,354.67 L294.80,355.36 L296.82,356.04 L298.86,356.72 L300.92,357.40 L303.00,358.08 L305.11,358.75 L307.23,359.41 L309.38,360.08 L311.56,360.74 L313.75,361.40 L315.97,362.05 L318.21,362.70 L320.48,363.34 L322.77,363.99 L325.09,364.62 L327.43,365.26 L329.79,365.89 L332.18,366.52 L334.60,367.14 L337.04,367.77 L339.50,368.39 L342.00,369.01 L344.52,369.63 L347.06,370.25 L349.64,370.87 L352.24,371.48 L354.87,372.10 L357.52,372.72 L360.21,373.34 L362.92,373.97 L365.66,374.59 L368.43,375.22 L371.23,375.84 L374.06,376.48 L376.92,377.11 L379.81,377.75 L382.74,378.39 L385.69,379.03 L388.67,379.68 L391.69,380.33 L394.74,380.99 L397.82,381.65 L400.93,382.31 L404.08,382.97 L407.26,383.64 L410.47,384.30 L413.72,384.97 L417.00,385.63 L420.32,386.29 L423.67,386.96 L427.06,387.61 L430.48,388.27 L433.94,388.92 L437.44,389.57 L440.97,390.22 L444.54,390.86 L448.15,391.49 L451.80,392.12 L455.49,392.74 L459.21,393.36 L462.98,393.97 L466.78,394.58 L470.63,395.18 L474.52,395.77 L478.45,396.35 L482.42,396.93 L486.43,397.50 L490.48,398.07 L494.58,398.62 L498.72,399.17 L502.91,399.72 L507.14,400.25 L511.41,400.78 L515.74,401.30 L520.10,401.81 L524.51,402.31 L528.97,402.81 L533.48,403.29 L538.04,403.77 L542.64,404.24 L547.29,404.71 L552.00,405.16 L556.75,405.61 L561.55,406.05 L566.40,406.48 L571.31,406.90 L576.27,407.32 L581.28,407.73 L586.34,408.14 L591.46,408.54 L596.63,408.94 L601.85,409.34 L607.14,409.72 L612.48,410.11 L617.87,410.49 L623.32,410.87 L628.83,411.24 L634.40,411.62 L640.03,411.99 L645.72,412.35 L651.47,412.72 L657.28,413.08 L663.15,413.45 L669.08,413.81 L675.08,414.17 L681.14,414.53 L687.26,414.89 L693.45,415.26 L699.71,415.62 L706.03,415.98 L712.42,416.34 L718.88,416.70 L725.40,417.07 L732.00,417.44" stroke="#0b9648" stroke-width="3.5"/>
<path d="M111.76,3.08 L111.83,4.29 L111.91,5.51 L111.98,6.74 L112.06,7.97 L112.13,9.21 L112.21,10.46 L112.29,11.72 L112.37,12.98 L112.45,14.26 L112.53,15.54 L112.61,16.83 L112.70,18.12 L112.78,19.42 L112.86,20.73 L112.95,22.05 L113.04,23.37 L113.12,24.69 L113.21,26.03 L113.30,27.37 L113.39,28.71 L113.48,30.07 L113.57,31.42 L113.67,32.79 L113.76,34.15 L113.86,35.53 L113.95,36.90 L114.05,38.29 L114.15,39.67 L114.25,41.07 L114.35,42.46 L114.45,43.86 L114.55,45.27 L114.66,46.68 L114.76,48.09 L114.87,49.51 L114.98,50.93 L115.09,52.35 L115.20,53.78 L115.31,55.21 L115.42,56.64 L115.53,58.08 L115.65,59.52 L115.76,60.96 L115.88,62.40 L116.00,63.85 L116.12,65.30 L116.24,66.75 L116.36,68.20 L116.48,69.66 L116.61,71.12 L116.73,72.58 L116.86,74.04 L116.99,75.50 L117.12,76.96 L117.25,78.43 L117.39,79.89 L117.52,81.36 L117.66,82.83 L117.79,84.30 L117.93,85.76 L118.07,87.23 L118.22,88.70 L118.36,90.18 L118.51,91.65 L118.65,93.12 L118.80,94.59 L118.95,96.06 L119.10,97.53 L119.26,99.00 L119.41,100.47 L119.57,101.94 L119.73,103.41 L119.89,104.88 L120.05,106.35 L120.21,107.81 L120.38,109.28 L120.54,110.74 L120.71,112.21 L120.88,113.67 L121.06,115.13 L121.23,116.59 L121.41,118.05 L121.59,119.51 L121.77,120.96 L121.95,122.41 L122.13,123.87 L122.32,125.32 L122.51,126.76 L122.70,128.21 L122.89,129.65 L123.08,131.09 L123.28,132.53 L123.48,133.97 L123.68,135.40 L123.88,136.84 L124.09,138.26 L124.30,139.69 L124.51,141.12 L124.72,142.54 L124.93,143.95 L125.15,145.37 L125.37,146.78 L125.59,148.19 L125.81,149.60 L126.04,151.00 L126.27,152.40 L126.50,153.80 L126.73,155.19 L126.97,156.58 L127.21,157.96 L127.45,159.35 L127.69,160.73 L127.94,162.10 L128.19,163.47 L128.44,164.84 L128.70,166.20 L128.95,167.56 L129.22,168.92 L129.48,170.27 L129.74,171.62 L130.01,172.97 L130.29,174.31 L130.56,175.64 L130.84,176.97 L131.12,178.30 L131.40,179.62 L131.69,180.94 L131.98,182.26 L132.27,183.57 L132.57,184.87 L132.87,186.18 L133.17,187.47 L133.48,188.76 L133.79,190.05 L134.10,191.33 L134.42,192.61 L134.74,193.89 L135.06,195.16 L135.39,196.42 L135.72,197.68 L136.05,198.93 L136.39,200.18 L136.73,201.43 L137.08,202.67 L137.42,203.90 L137.78,205.13 L138.13,206.36 L138.49,207.58 L138.86,208.79 L139.22,210.00 L139.60,211.21 L139.97,212.41 L140.35,213.60 L140.74,214.79 L141.13,215.97 L141.52,217.15 L141.92,218.33 L142.32,219.50 L142.72,220.66 L143.13,221.82 L143.55,222.97 L143.97,224.12 L144.39,225.26 L144.82,226.39 L145.25,227.53 L145.69,228.65 L146.13,229.77 L146.58,230.89 L147.03,232.00 L147.49,233.10 L147.95,234.20 L148.41,235.30 L148.89,236.38 L149.36,237.47 L149.85,238.55 L150.33,239.62 L150.83,240.69 L151.32,241.76 L151.83,242.82 L152.34,243.87 L152.85,244.92 L153.37,245.97 L153.90,247.01 L154.43,248.05 L154.97,249.08 L155.51,250.11 L156.06,251.13 L156.61,252.15 L157.17,253.17 L157.74,254.18 L158.31,255.19 L158.89,256.19 L159.48,257.19 L160.07,258.19 L160.67,259.18 L161.28,260.17 L161.89,261.15 L162.51,262.13 L163.13,263.11 L163.76,264.08 L164.40,265.05 L165.05,266.02 L165.70,266.98 L166.36,267.94 L167.03,268.89 L167.70,269.85 L168.38,270.79 L169.07,271.74 L169.77,272.68 L170.47,273.62 L171.18,274.55 L171.90,275.49 L172.63,276.42 L173.36,277.34 L174.11,278.26 L174.86,279.18 L175.62,280.10 L176.39,281.01 L177.16,281.92 L177.95,282.83 L178.74,283.74 L179.54,284.64 L180.35,285.54 L181.17,286.43 L182.00,287.33 L182.83,288.22 L183.68,289.11 L184.54,289.99 L185.40,290.88 L186.27,291.76 L187.16,292.63 L188.05,293.51 L188.95,294.38 L189.87,295.25 L190.79,296.12 L191.72,296.98 L192.66,297.85 L193.62,298.71 L194.58,299.57 L195.55,300.42 L196.54,301.27 L197.53,302.13 L198.54,302.97 L199.55,303.82 L200.58,304.66 L201.62,305.51 L202.67,306.35 L203.73,307.18 L204.81,308.02 L205.89,308.85 L206.99,309.68 L208.10,310.51 L209.22,311.34 L210.35,312.16 L211.49,312.99 L212.65,313.81 L213.82,314.63 L215.00,315.44 L216.20,316.26 L217.41,317.07 L218.63,317.88 L219.87,318.69 L221.11,319.50 L222.38,320.30 L223.65,321.11 L224.94,321.91 L226.24,322.71 L227.56,323.51 L228.89,324.30 L230.24,325.10 L231.60,325.89 L232.98,326.68 L234.37,327.47 L235.78,328.25 L237.20,329.04 L238.63,329.82 L240.09,330.61 L241.55,331.39 L243.04,332.16 L244.54,332.94 L246.06,333.72 L247.59,334.49 L249.14,335.26 L250.71,336.03 L252.29,336.80 L253.89,337.58 L255.51,338.35 L257.14,339.12 L258.80,339.89 L260.47,340.66 L262.16,341.43 L263.87,342.21 L265.59,342.98 L267.34,343.76 L269.10,344.54 L270.89,345.32 L272.69,346.11 L274.51,346.90 L276.36,347.69 L278.22,348.48 L280.10,349.28 L282.00,350.08 L283.93,350.88 L285.87,351.68 L287.84,352.49 L289.83,353.30 L291.83,354.11 L293.86,354.92 L295.92,355.72 L297.99,356.52 L300.09,357.32 L302.21,358.11 L304.35,358.89 L306.52,359.67 L308.71,360.44 L310.93,361.20 L313.16,361.95 L315.43,362.70 L317.71,363.43 L320.02,364.14 L322.36,364.85 L324.72,365.54 L327.11,366.22 L329.53,366.88 L331.97,367.53 L334.43,368.17 L336.93,368.80 L339.45,369.43 L342.00,370.04 L344.57,370.65 L347.18,371.25 L349.81,371.85 L352.47,372.45 L355.16,373.04 L357.88,373.63 L360.63,374.23 L363.40,374.82 L366.21,375.42 L369.05,376.02 L371.92,376.62 L374.82,377.22 L377.76,377.84 L380.72,378.45 L383.72,379.08 L386.75,379.71 L389.81,380.35 L392.90,381.01 L396.03,381.66 L399.20,382.33 L402.39,383.00 L405.63,383.68 L408.89,384.36 L412.20,385.05 L415.53,385.73 L418.91,386.43 L422.32,387.12 L425.77,387.81 L429.26,388.50 L432.78,389.19 L436.34,389.88 L439.95,390.57 L443.59,391.26 L447.27,391.94 L450.99,392.61 L454.75,393.29 L458.55,393.95 L462.39,394.61 L466.27,395.27 L470.20,395.92 L474.17,396.56 L478.18,397.19 L482.24,397.81 L486.34,398.43 L490.48,399.03 L494.67,399.62 L498.91,400.21 L503.19,400.78 L507.52,401.34 L511.89,401.89 L516.31,402.43 L520.78,402.96 L525.30,403.47 L529.87,403.97 L534.49,404.46 L539.16,404.93 L543.88,405.39 L548.65,405.83 L553.47,406.26 L558.34,406.68 L563.27,407.09 L568.25,407.48 L573.28,407.87 L578.37,408.26 L583.52,408.64 L588.72,409.01 L593.98,409.38 L599.29,409.74 L604.66,410.11 L610.10,410.48 L615.58,410.84 L621.13,411.21 L626.74,411.58 L632.41,411.96 L638.15,412.34 L643.94,412.73 L649.80,413.12 L655.72,413.52 L661.71,413.93 L667.76,414.35 L673.87,414.79 L680.06,415.23 L686.31,415.68 L692.62,416.15 L699.01,416.63 L705.47,417.12 L711.99,417.63 L718.59,418.16 L725.26,418.70 L732.00,419.26" stroke="#0d60ac" stroke-width="3.5"/>
</g>
<text x="83.0" y="500.9" font-size="32.5" textLength="18.71" lengthAdjust="spacingAndGlyphs" text-anchor="end">0</text>
<text x="83.0" y="383.0" font-size="32.5" textLength="18.71" lengthAdjust="spacingAndGlyphs" text-anchor="end">5</text>
<text x="83.0" y="265.1" font-size="32.5" textLength="37.42" lengthAdjust="spacingAndGlyphs" text-anchor="end">10</text>
<text x="83.0" y="147.1" font-size="32.5" textLength="37.42" lengthAdjust="spacingAndGlyphs" text-anchor="end">15</text>
<text x="83.0" y="29.2" font-size="32.5" textLength="37.42" lengthAdjust="spacingAndGlyphs" text-anchor="end">20</text>
<text x="111.2" y="540.4" font-size="32.5" textLength="18.71" lengthAdjust="spacingAndGlyphs" text-anchor="middle">0</text>
<text x="421.4" y="540.4" font-size="32.5" textLength="37.42" lengthAdjust="spacingAndGlyphs" text-anchor="middle">30</text>
<text x="731.7" y="540.4" font-size="32.5" textLength="37.42" lengthAdjust="spacingAndGlyphs" text-anchor="middle">60</text>
<text x="421.5" y="588.6" font-size="33.5" textLength="117.28" lengthAdjust="spacingAndGlyphs" text-anchor="middle">Time [s]</text>
<text x="426.2" y="633.8" font-size="33.5" textLength="40.74" lengthAdjust="spacingAndGlyphs" text-anchor="middle">(a)</text>
<text transform="translate(28.9,255.3) rotate(-90)" font-size="33.5" textLength="178.56" lengthAdjust="spacingAndGlyphs" text-anchor="middle">Current [µA]</text>
<line x1="442.5" y1="47.5" x2="505.5" y2="47.5" stroke="#e61218" stroke-width="3.6" stroke-linecap="round"/>
<text x="512.4" y="58.2" font-size="32.5" textLength="112.15" lengthAdjust="spacingAndGlyphs">0.2 mM</text>
<line x1="442.5" y1="84.1" x2="505.5" y2="84.1" stroke="#f4aa1c" stroke-width="3.6" stroke-linecap="round"/>
<text x="512.4" y="94.8" font-size="32.5" textLength="112.15" lengthAdjust="spacingAndGlyphs">0.1 mM</text>
<line x1="442.5" y1="120.7" x2="505.5" y2="120.7" stroke="#fcf814" stroke-width="3.6" stroke-linecap="round"/>
<text x="512.4" y="131.4" font-size="32.5" textLength="128.96" lengthAdjust="spacingAndGlyphs">0.05 mM</text>
<line x1="442.5" y1="157.2" x2="505.5" y2="157.2" stroke="#8cc047" stroke-width="3.6" stroke-linecap="round"/>
<text x="512.4" y="167.9" font-size="32.5" textLength="128.96" lengthAdjust="spacingAndGlyphs">0.02 mM</text>
<line x1="442.5" y1="193.8" x2="505.5" y2="193.8" stroke="#0b9648" stroke-width="3.6" stroke-linecap="round"/>
<text x="512.4" y="204.5" font-size="32.5" textLength="128.96" lengthAdjust="spacingAndGlyphs">0.01 mM</text>
<line x1="442.5" y1="230.4" x2="505.5" y2="230.4" stroke="#0d60ac" stroke-width="3.6" stroke-linecap="round"/>
<text x="512.4" y="241.1" font-size="32.5" textLength="84.10" lengthAdjust="spacingAndGlyphs">0 mM</text>
</g>
<g id="chart-b">
<g stroke="#000" fill="none">
<rect x="92.5" y="673.6" width="625.1" height="459.4999999999999" stroke-width="2.9" stroke-linejoin="round"/>
<line x1="82.0" y1="1133.1" x2="92.5" y2="1133.1" stroke-width="1.8"/>
<line x1="82.0" y1="1075.7" x2="92.5" y2="1075.7" stroke-width="1.8"/>
<line x1="82.0" y1="1018.2" x2="92.5" y2="1018.2" stroke-width="1.8"/>
<line x1="82.0" y1="960.8" x2="92.5" y2="960.8" stroke-width="1.8"/>
<line x1="82.0" y1="903.3" x2="92.5" y2="903.3" stroke-width="1.8"/>
<line x1="82.0" y1="845.9" x2="92.5" y2="845.9" stroke-width="1.8"/>
<line x1="82.0" y1="788.5" x2="92.5" y2="788.5" stroke-width="1.8"/>
<line x1="82.0" y1="731.0" x2="92.5" y2="731.0" stroke-width="1.8"/>
<line x1="82.0" y1="673.6" x2="92.5" y2="673.6" stroke-width="1.8"/>
<line x1="92.5" y1="1133.1" x2="92.5" y2="1143.6" stroke-width="2.2"/>
<line x1="300.9" y1="1133.1" x2="300.9" y2="1143.6" stroke-width="2.2"/>
<line x1="509.2" y1="1133.1" x2="509.2" y2="1143.6" stroke-width="2.2"/>
<line x1="717.6" y1="1133.1" x2="717.6" y2="1143.6" stroke-width="2.2"/>
<line x1="92.5" y1="1054.2" x2="509.4" y2="716.7" stroke-width="3.6"/>
</g>
<rect x="84.5" y="1035.0" width="16.2" height="16.2" fill="#000"/>
<rect x="126.1" y="1027.5" width="16.2" height="16.2" fill="#000"/>
<rect x="167.7" y="986.2" width="16.2" height="16.2" fill="#000"/>
<rect x="292.4" y="868.9" width="16.2" height="16.2" fill="#000"/>
<rect x="501.3" y="710.7" width="16.2" height="16.2" fill="#000"/>
<text x="64.3" y="1142.9" font-size="32.5" textLength="18.71" lengthAdjust="spacingAndGlyphs" text-anchor="end">1</text>
<text x="64.3" y="1085.5" font-size="32.5" textLength="18.71" lengthAdjust="spacingAndGlyphs" text-anchor="end">2</text>
<text x="64.3" y="1028.0" font-size="32.5" textLength="18.71" lengthAdjust="spacingAndGlyphs" text-anchor="end">3</text>
<text x="64.3" y="970.6" font-size="32.5" textLength="18.71" lengthAdjust="spacingAndGlyphs" text-anchor="end">4</text>
<text x="64.3" y="913.1" font-size="32.5" textLength="18.71" lengthAdjust="spacingAndGlyphs" text-anchor="end">5</text>
<text x="64.3" y="855.7" font-size="32.5" textLength="18.71" lengthAdjust="spacingAndGlyphs" text-anchor="end">6</text>
<text x="64.3" y="798.3" font-size="32.5" textLength="18.71" lengthAdjust="spacingAndGlyphs" text-anchor="end">7</text>
<text x="64.3" y="740.8" font-size="32.5" textLength="18.71" lengthAdjust="spacingAndGlyphs" text-anchor="end">8</text>
<text x="64.3" y="683.4" font-size="32.5" textLength="18.71" lengthAdjust="spacingAndGlyphs" text-anchor="end">9</text>
<text x="91.9" y="1182.8" font-size="32.5" textLength="18.71" lengthAdjust="spacingAndGlyphs" text-anchor="middle">0</text>
<text x="300.3" y="1182.8" font-size="32.5" textLength="63.26" lengthAdjust="spacingAndGlyphs" text-anchor="middle">0.05</text>
<text x="508.6" y="1182.8" font-size="32.5" textLength="42.47" lengthAdjust="spacingAndGlyphs" text-anchor="middle">0.1</text>
<text x="717.0" y="1182.8" font-size="32.5" textLength="63.26" lengthAdjust="spacingAndGlyphs" text-anchor="middle">0.15</text>
<text x="405.4" y="1230.5" font-size="33.5" textLength="233.60" lengthAdjust="spacingAndGlyphs" text-anchor="middle">Dopamine [mM]</text>
<text x="426.2" y="1272.6" font-size="33.5" textLength="40.74" lengthAdjust="spacingAndGlyphs" text-anchor="middle">(b)</text>
<text transform="translate(28.9,904.1) rotate(-90)" font-size="33.5" textLength="178.56" lengthAdjust="spacingAndGlyphs" text-anchor="middle">Current [µA]</text>
<text x="428.5" y="1029.4" font-size="32.5" textLength="175.01" lengthAdjust="spacingAndGlyphs">R² = 0.9937</text>
</g>
</svg></body></html>
